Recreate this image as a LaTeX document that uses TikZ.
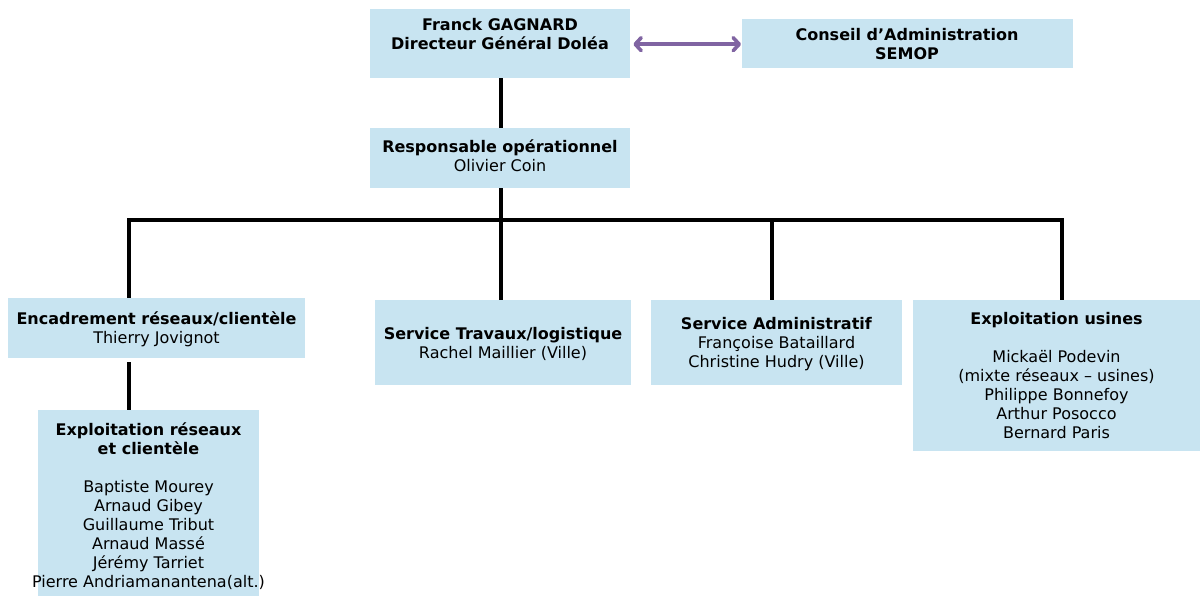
\documentclass[tikz,border=0pt]{standalone}
\usepackage{fontspec}
\setmainfont{DejaVu Sans}
\usetikzlibrary{arrows.meta}
\definecolor{boxblue}{RGB}{200,228,241}
\definecolor{linkpurple}{RGB}{128,100,162}
\tikzset{
  box/.style={draw=none, fill=boxblue, anchor=north west, inner sep=0pt},
  txt/.style={align=center, inner sep=0pt, text=black, font=\fontsize{16}{19}\selectfont},
  boldtxt/.style={txt, font=\bfseries\fontsize{16}{19}\selectfont},
  link/.style={line width=3.6pt, black},
  duo/.style={arrows={Straight Barb[length=6pt,width=13pt,line cap=round,line join=round]-Straight Barb[length=6pt,width=13pt,line cap=round,line join=round]}, line width=3.6pt, linkpurple, shorten <=3pt, shorten >=1pt},
}
\begin{document}
\begin{tikzpicture}[x=1pt,y=-1pt]
\useasboundingbox (0,0) rectangle (1200,596);
% boxes
\node[box, minimum width=260pt, minimum height=69pt] (f) at (370,9) {};
\node[box, minimum width=331pt, minimum height=49pt] (c) at (742,19) {};
\node[box, minimum width=260pt, minimum height=60pt] (r) at (370,128) {};
\node[box, minimum width=297pt, minimum height=60pt] (enc) at (8,298) {};
\node[box, minimum width=256pt, minimum height=85pt] (trav) at (375,300) {};
\node[box, minimum width=251pt, minimum height=85pt] (adm) at (651,300) {};
\node[box, minimum width=287pt, minimum height=151pt] (usi) at (913,300) {};
\node[box, minimum width=221pt, minimum height=186pt] (expr) at (38,410) {};
% texts
\node[boldtxt] (ft) at (500,34) {Franck GAGNARD\\Directeur Général Doléa};
\node[boldtxt] (ct) at (907,44.5) {Conseil d’Administration\\SEMOP};
\node[txt] (rt) at (500,155.5) {\textbf{Responsable opérationnel}\\Olivier Coin};
\node[txt] (enct) at (156.5,329.5) {\textbf{Encadrement réseaux/clientèle}\\Thierry Jovignot};
\node[txt] (travt) at (503,343.5) {\textbf{Service Travaux/logistique}\\Rachel Maillier (Ville)};
\node[txt] (admt) at (776.5,344) {\textbf{Service Administratif}\\Françoise Bataillard\\Christine Hudry (Ville)};
\node[txt] (usit) at (1056.5,376) {\textbf{Exploitation usines}\\[19pt]Mickaël Podevin\\(mixte réseaux – usines)\\Philippe Bonnefoy\\Arthur Posocco\\Bernard Paris};
\node[txt] (exprt) at (148.5,506) {\textbf{Exploitation réseaux}\\\textbf{et clientèle}\\[19pt]Baptiste Mourey\\Arnaud Gibey\\Guillaume Tribut\\Arnaud Massé\\Jérémy Tarriet\\Pierre Andriamanantena(alt.)};
% connectors
\coordinate (bl) at (129,220);
\coordinate (br) at (1062,220);
\coordinate (bm) at (501,220);
\coordinate (ba) at (772,220);
\draw[duo] ([yshift=-0.5pt]f.east) -- ([yshift=-0.5pt]c.west);
\draw[link] (bm |- f.south) -- (bm |- r.north);
\draw[link] (bm |- r.south) -- (bm);
\draw[link, line cap=rect] (bl) -- (br);
\draw[link] (bl) -- (bl |- enc.north);
\draw[link] (bm) -- (bm |- trav.north);
\draw[link] (ba) -- (ba |- adm.north);
\draw[link] (br) -- (br |- usi.north);
\draw[link] ([yshift=-4pt]bl |- enc.south) -- (bl |- expr.north);
\end{tikzpicture}
\end{document}
